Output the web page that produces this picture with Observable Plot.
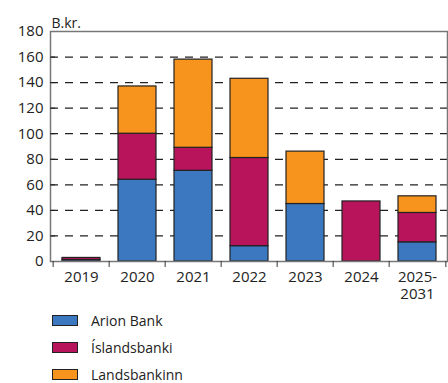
<!DOCTYPE html>
<html>
<head>
<meta charset="utf-8">
<script src="https://cdn.jsdelivr.net/npm/d3@7"></script>
<script src="https://cdn.jsdelivr.net/npm/@observablehq/plot@0.6"></script>
<style>
  body { margin: 0; background: #fff; font-family: "Open Sans", sans-serif; }
  #wrap { position: relative; width: 448px; height: 383px; }
  #wrap svg { position: absolute; left: 0; top: 0; }
  .legend { position: absolute; left: 52px; top: 307px; font-size: 14px; color: #222; }
  .legend .row { display: flex; align-items: center; height: 27px; }
  .legend .row span { line-height: 14px; }
  .legend .sw { width: 24px; height: 9px; border: 1px solid #222; margin-right: 13px; }
</style>
</head>
<body>
<div id="wrap"></div>
<script>
const years = ["2019", "2020", "2021", "2022", "2023", "2024", "2025-2031"];
const series = ["Arion Bank", "Íslandsbanki", "Landsbankinn"];
const colors = ["#3b78bf", "#b8145c", "#f7941d"];
const arion = [1.2, 64, 71, 12, 45, 0, 15];
const islandsbanki = [1.6, 36, 18, 69, 0, 47, 23];
const landsbankinn = [0, 37, 69, 62, 41, 0, 13];
const yTicks = [0, 20, 40, 60, 80, 100, 120, 140, 160, 180];
const unitLabel = "B.kr.";

const values = [arion, islandsbanki, landsbankinn];
const data = [];
series.forEach((s, i) => years.forEach((y, j) => {
  if (values[i][j] > 0) data.push({year: y, series: s, value: values[i][j]});
}));

const W = 448, ML = 50, MR = 1;
const step = (W - ML - MR) / years.length;

const chart = Plot.plot({
  width: W, height: 306,
  marginLeft: ML, marginRight: MR, marginTop: 31, marginBottom: 45,
  style: {fontFamily: "'Open Sans', sans-serif", fontSize: "15px", color: "#222", background: "transparent"},
  x: {domain: years, paddingInner: 0.33, paddingOuter: 0.165, label: null},
  y: {domain: [0, 180], label: null},
  color: {domain: series, range: colors},
  marks: [
    Plot.gridY(yTicks.filter(d => d > 0 && d < 180), {stroke: "#222", strokeOpacity: 1, strokeWidth: 1.2, strokeDasharray: "8,7"}),
    Plot.barY(data, Plot.stackY({x: "year", y: "value", fill: "series", order: series, stroke: "#222", strokeWidth: 1.2})),
    Plot.frame({stroke: "#777", strokeWidth: 1.5}),
    Plot.axisY(yTicks, {tickSize: 0, tickPadding: 7, label: null}),
    Plot.axisY(yTicks.filter(d => d > 0 && d < 180), {tickSize: 5, dx: 5, fill: "none", stroke: "#222", label: null}),
    Plot.axisX({tickSize: 0, tickPadding: 8, lineHeight: 1.15, tickFormat: d => d.replace("-", "-\n"), label: null}),
    Plot.axisX({tickSize: 6, dx: -step / 2, fill: "none", stroke: "#333", label: null}),
    Plot.axisX([years[years.length - 1]], {tickSize: 6, dx: step / 2, fill: "none", stroke: "#333", label: null}),
    Plot.text([unitLabel], {frameAnchor: "top-left", textAnchor: "start", lineAnchor: "bottom", dy: -4, dx: 1, fontSize: 14, fill: "#222"})
  ]
});

const wrap = document.getElementById("wrap");
wrap.appendChild(chart);
const legend = document.createElement("div");
legend.className = "legend";
series.forEach((s, i) => {
  const row = document.createElement("div");
  row.className = "row";
  const sw = document.createElement("div");
  sw.className = "sw";
  sw.style.background = colors[i];
  const t = document.createElement("span");
  t.textContent = s;
  row.appendChild(sw); row.appendChild(t);
  legend.appendChild(row);
});
wrap.appendChild(legend);
</script>
</body>
</html>
